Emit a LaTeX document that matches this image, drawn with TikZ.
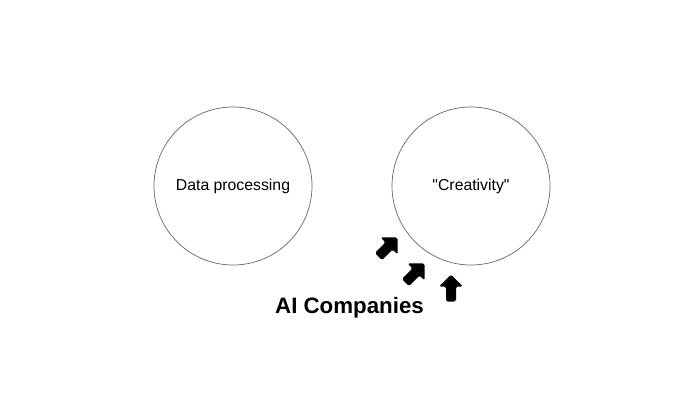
\documentclass[tikz,border=0pt]{standalone}
\usepackage{fontspec}
\setmainfont[Ligatures=TeXOff]{Liberation Sans}
\tikzset{
  circ/.style={circle, draw=black!60, line width=0.7pt, minimum size=158pt, inner sep=0pt, font=\fontsize{15.8}{18}\selectfont},
  title/.style={font=\fontsize{22.3}{26}\selectfont\bfseries, inner sep=0pt},
  bigarrow/.pic={
    \fill[black, rounded corners=1.6pt] (0,-13.5) -- (12,-1.5) -- (5,-1.5) -- (5,13.5) -- (-5,13.5) -- (-5,-1.5) -- (-12,-1.5) -- cycle;
  }
}
\begin{document}
\begin{tikzpicture}[x=1pt, y=-1pt]
\useasboundingbox[fill=white] (0,0) rectangle (700,408);
\node[circ] (dp) at (233,186) {Data processing};
\node[circ] (cr) at (471,186) {"Creativity"};
\node[title] (ai) at (349.5,308) {AI Companies};
\pic[rotate=-45] at (388,247) {bigarrow};
\pic[rotate=-45] at (415,273) {bigarrow};
\pic at (451,288) {bigarrow};
\end{tikzpicture}
\end{document}
